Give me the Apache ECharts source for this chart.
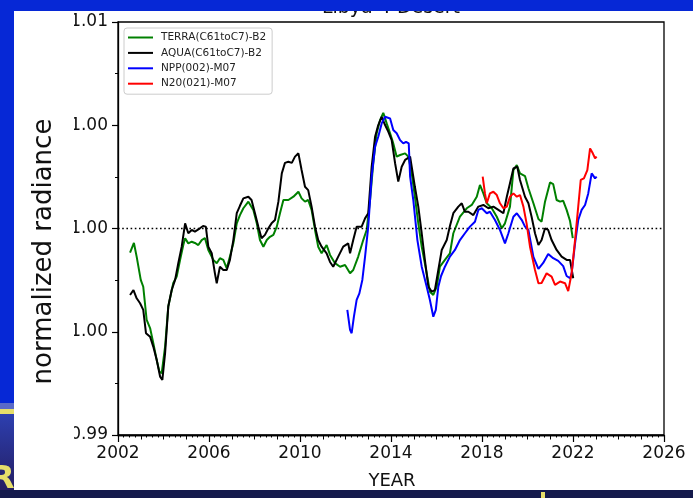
<!DOCTYPE html>
<html>
<head>
<meta charset="utf-8">
<script src="https://cdn.jsdelivr.net/npm/echarts@6/dist/echarts.min.js"></script>
<style>
  html, body { margin: 0; padding: 0; background: #0628d6; }
  #chart { width: 693px; height: 498px; }
</style>
</head>
<body>
<div id="chart"></div>
<script>
// Libya 4 desert site: normalized radiance time series per sensor/band
const seriesNames = ['TERRA(C61toC7)-B2', 'AQUA(C61toC7)-B2', 'NPP(002)-M07', 'N20(021)-M07'];
const seriesColors = ['#008000', '#000000', '#0000ff', '#ff0000'];

const xTickYears = [2002, 2006, 2010, 2014, 2018, 2022, 2026];
const yTickValues = [0.99, 0.995, 1.0, 1.005, 1.01];
const yTickLabels = ['0.99', '1.00', '1.00', '1.00', '1.01'];

const terra = [
  [2002.53, 0.99883], [2002.70, 0.99930], [2002.82, 0.99864], [2003.00, 0.99751], [2003.11, 0.99718],
  [2003.26, 0.99557], [2003.41, 0.99518], [2003.55, 0.99446], [2003.70, 0.99364], [2003.82, 0.99307],
  [2003.92, 0.99299], [2004.07, 0.99428], [2004.21, 0.99622], [2004.43, 0.99736], [2004.58, 0.99767],
  [2004.73, 0.99848], [2004.87, 0.99920], [2004.95, 0.99953], [2005.09, 0.99928], [2005.24, 0.99936],
  [2005.38, 0.99930], [2005.53, 0.99920], [2005.68, 0.99944], [2005.82, 0.99954], [2005.97, 0.99896],
  [2006.19, 0.99848], [2006.34, 0.99832], [2006.48, 0.99856], [2006.63, 0.99848], [2006.78, 0.99807],
  [2006.92, 0.99864], [2007.07, 0.99928], [2007.22, 1.00025], [2007.36, 1.00065], [2007.51, 1.00098],
  [2007.73, 1.00130], [2007.80, 1.00122], [2007.95, 1.00090], [2008.10, 1.00025], [2008.24, 0.99944],
  [2008.39, 0.99912], [2008.54, 0.99944], [2008.68, 0.99960], [2008.83, 0.99969], [2008.98, 1.00009],
  [2009.12, 1.00074], [2009.27, 1.00138], [2009.49, 1.00138], [2009.71, 1.00154], [2009.93, 1.00178],
  [2010.07, 1.00146], [2010.22, 1.00130], [2010.36, 1.00138], [2010.51, 1.00090], [2010.66, 0.99993],
  [2010.80, 0.99912], [2010.95, 0.99880], [2011.17, 0.99920], [2011.32, 0.99872], [2011.54, 0.99832],
  [2011.76, 0.99815], [2011.98, 0.99823], [2012.20, 0.99783], [2012.34, 0.99799], [2012.56, 0.99864],
  [2012.78, 0.99944], [2012.93, 0.99993], [2013.08, 1.00138], [2013.22, 1.00316], [2013.37, 1.00461],
  [2013.52, 1.00525], [2013.66, 1.00560], [2013.81, 1.00509], [2013.96, 1.00461], [2014.10, 1.00412],
  [2014.25, 1.00348], [2014.40, 1.00356], [2014.62, 1.00364], [2014.76, 1.00348], [2014.91, 1.00267],
  [2015.05, 1.00154], [2015.20, 1.00025], [2015.35, 0.99912], [2015.57, 0.99783], [2015.71, 0.99694],
  [2015.86, 0.99678], [2016.01, 0.99718], [2016.15, 0.99815], [2016.37, 0.99848], [2016.59, 0.99880],
  [2016.74, 0.99977], [2017.03, 1.00057], [2017.33, 1.00098], [2017.55, 1.00114], [2017.77, 1.00154],
  [2017.91, 1.00211], [2018.06, 1.00170], [2018.21, 1.00122], [2018.43, 1.00098], [2018.65, 1.00057],
  [2018.87, 1.00001], [2019.01, 1.00025], [2019.23, 1.00106], [2019.38, 1.00283], [2019.53, 1.00307],
  [2019.67, 1.00267], [2019.89, 1.00254], [2020.04, 1.00195], [2020.26, 1.00122], [2020.48, 1.00046],
  [2020.62, 1.00033], [2020.77, 1.00130], [2020.99, 1.00223], [2021.13, 1.00215], [2021.28, 1.00138],
  [2021.43, 1.00130], [2021.57, 1.00134], [2021.72, 1.00090], [2021.87, 1.00036], [2021.99, 0.99953]
];

const aqua = [
  [2002.53, 0.99678], [2002.68, 0.99702], [2002.82, 0.99662], [2002.97, 0.99638], [2003.11, 0.99606],
  [2003.23, 0.99493], [2003.41, 0.99476], [2003.55, 0.99428], [2003.70, 0.99364], [2003.85, 0.99283],
  [2003.95, 0.99267], [2004.07, 0.99396], [2004.21, 0.99622], [2004.36, 0.99702], [2004.51, 0.99751],
  [2004.65, 0.99832], [2004.80, 0.99912], [2004.95, 1.00025], [2005.09, 0.99977], [2005.24, 0.99993],
  [2005.38, 0.99985], [2005.60, 1.00001], [2005.74, 1.00012], [2005.86, 1.00009], [2005.97, 0.99912],
  [2006.12, 0.99880], [2006.26, 0.99783], [2006.34, 0.99735], [2006.48, 0.99815], [2006.63, 0.99799],
  [2006.78, 0.99799], [2006.92, 0.99848], [2007.07, 0.99944], [2007.22, 1.00074], [2007.36, 1.00110],
  [2007.51, 1.00146], [2007.73, 1.00154], [2007.87, 1.00138], [2008.02, 1.00074], [2008.17, 1.00009],
  [2008.31, 0.99953], [2008.46, 0.99969], [2008.61, 1.00001], [2008.75, 1.00025], [2008.90, 1.00041],
  [2009.05, 1.00130], [2009.20, 1.00267], [2009.34, 1.00318], [2009.49, 1.00323], [2009.64, 1.00318],
  [2009.78, 1.00348], [2009.93, 1.00364], [2010.07, 1.00283], [2010.22, 1.00202], [2010.36, 1.00186],
  [2010.51, 1.00106], [2010.66, 1.00009], [2010.80, 0.99944], [2010.95, 0.99912], [2011.17, 0.99880],
  [2011.32, 0.99838], [2011.46, 0.99815], [2011.68, 0.99864], [2011.90, 0.99912], [2012.12, 0.99928],
  [2012.20, 0.99880], [2012.34, 0.99944], [2012.49, 1.00009], [2012.71, 1.00009], [2012.86, 1.00049],
  [2013.00, 1.00074], [2013.15, 1.00299], [2013.30, 1.00444], [2013.44, 1.00501], [2013.59, 1.00541],
  [2013.74, 1.00501], [2013.88, 1.00469], [2014.03, 1.00428], [2014.18, 1.00316], [2014.32, 1.00227],
  [2014.47, 1.00299], [2014.62, 1.00332], [2014.84, 1.00348], [2014.91, 1.00299], [2015.05, 1.00202],
  [2015.20, 1.00106], [2015.35, 0.99977], [2015.49, 0.99848], [2015.64, 0.99718], [2015.79, 0.99694],
  [2015.93, 0.99702], [2016.08, 0.99799], [2016.23, 0.99896], [2016.45, 0.99944], [2016.59, 1.00012],
  [2016.74, 1.00074], [2016.96, 1.00106], [2017.11, 1.00122], [2017.25, 1.00081], [2017.40, 1.00081],
  [2017.62, 1.00065], [2017.84, 1.00106], [2018.06, 1.00114], [2018.28, 1.00098], [2018.50, 1.00106],
  [2018.72, 1.00090], [2018.94, 1.00074], [2019.09, 1.00154], [2019.23, 1.00219], [2019.38, 1.00291],
  [2019.55, 1.00299], [2019.67, 1.00235], [2019.89, 1.00154], [2020.04, 1.00122], [2020.18, 1.00057],
  [2020.33, 0.99977], [2020.48, 0.99920], [2020.62, 0.99944], [2020.77, 1.00001], [2020.91, 0.99993],
  [2021.06, 0.99944], [2021.28, 0.99896], [2021.50, 0.99864], [2021.72, 0.99848], [2021.87, 0.99848],
  [2022.01, 0.99759]
];

const npp = [
  [2012.08, 0.99606], [2012.20, 0.99509], [2012.27, 0.99493], [2012.37, 0.99573], [2012.49, 0.99654],
  [2012.61, 0.99686], [2012.74, 0.99751], [2012.86, 0.99864], [2013.00, 1.00009], [2013.15, 1.00251],
  [2013.30, 1.00396], [2013.44, 1.00444], [2013.59, 1.00509], [2013.74, 1.00541], [2013.96, 1.00533],
  [2014.10, 1.00477], [2014.25, 1.00461], [2014.40, 1.00428], [2014.54, 1.00412], [2014.66, 1.00420],
  [2014.78, 1.00412], [2014.84, 1.00251], [2014.98, 1.00138], [2015.16, 0.99944], [2015.24, 0.99936],
  [2015.35, 0.99815], [2015.57, 0.99718], [2015.71, 0.99654], [2015.86, 0.99573], [2015.97, 0.99606],
  [2016.08, 0.99718], [2016.20, 0.99770], [2016.37, 0.99815], [2016.59, 0.99864], [2016.81, 0.99896],
  [2017.03, 0.99944], [2017.25, 0.99977], [2017.47, 1.00009], [2017.69, 1.00033], [2017.84, 1.00090],
  [2017.99, 1.00098], [2018.21, 1.00074], [2018.35, 1.00081], [2018.57, 1.00041], [2018.79, 0.99993],
  [2019.01, 0.99928], [2019.16, 0.99977], [2019.38, 1.00057], [2019.53, 1.00074], [2019.75, 1.00041],
  [2019.89, 1.00009], [2020.04, 0.99993], [2020.26, 0.99862], [2020.48, 0.99804], [2020.69, 0.99833],
  [2020.91, 0.99877], [2021.13, 0.99856], [2021.35, 0.99843], [2021.57, 0.99818], [2021.72, 0.99770],
  [2021.87, 0.99759], [2021.94, 0.99783], [2022.09, 0.99928], [2022.23, 1.00041], [2022.38, 1.00090],
  [2022.53, 1.00114], [2022.67, 1.00170], [2022.82, 1.00267], [2022.97, 1.00243], [2023.04, 1.00251]
];

const n20 = [
  [2018.03, 1.00251], [2018.13, 1.00170], [2018.21, 1.00122], [2018.35, 1.00170], [2018.50, 1.00178],
  [2018.65, 1.00162], [2018.79, 1.00122], [2018.94, 1.00098], [2019.09, 1.00106], [2019.23, 1.00154],
  [2019.38, 1.00170], [2019.53, 1.00154], [2019.67, 1.00162], [2019.82, 1.00106], [2019.96, 1.00025],
  [2020.11, 0.99912], [2020.33, 0.99799], [2020.48, 0.99735], [2020.62, 0.99736], [2020.84, 0.99783],
  [2021.06, 0.99767], [2021.21, 0.99727], [2021.43, 0.99743], [2021.65, 0.99735], [2021.79, 0.99697],
  [2021.94, 0.99783], [2022.09, 0.99944], [2022.23, 1.00106], [2022.34, 1.00235], [2022.48, 1.00243],
  [2022.63, 1.00283], [2022.75, 1.00388], [2022.87, 1.00364], [2022.97, 1.00340], [2023.04, 1.00348]
];

const seriesData = [terra, aqua, npp, n20];

const FONT = 'DejaVu Sans';
const chart = echarts.init(document.getElementById('chart'), null, { renderer: 'canvas' });

const lineSeries = seriesData.map((d, i) => ({
  name: seriesNames[i],
  type: 'line',
  xAxisIndex: 0,
  yAxisIndex: 0,
  data: d,
  showSymbol: false,
  symbol: 'none',
  lineStyle: { color: seriesColors[i], width: 2 },
  itemStyle: { color: seriesColors[i] },
  z: 3 + i,
  animation: false
}));

// unit reference line
lineSeries[0].markLine = {
  silent: true,
  symbol: 'none',
  label: { show: false },
  lineStyle: { color: '#000', type: [1.6, 2.6], width: 1.3 },
  data: [{ yAxis: 1.0 }],
  animation: false
};

const axisLineStyle = { color: '#000', width: 1.3 };

chart.setOption({
  backgroundColor: '#0628d6',
  animation: false,
  grid: {
    left: 118, right: 29, top: 22, bottom: 63,
    show: true, borderColor: '#000', borderWidth: 1.3, backgroundColor: 'transparent'
  },
  legend: {
    orient: 'vertical',
    left: 124, top: 28,
    data: seriesNames,
    icon: 'rect',
    itemWidth: 25, itemHeight: 2,
    itemGap: 2.4,
    padding: [3, 6, 4, 4],
    borderColor: '#cccccc', borderWidth: 1, borderRadius: 3,
    backgroundColor: 'rgba(255,255,255,0.85)',
    textStyle: { fontFamily: FONT, fontSize: 10.5, color: '#222', lineHeight: 13, padding: [0, 0, 0, 3] }
  },
  xAxis: [
    {
      type: 'value', position: 'bottom',
      min: 2002, max: 2026, interval: 4,
      axisLine: { show: true, onZero: false, lineStyle: axisLineStyle },
      axisTick: { show: true, inside: false, length: 7, lineStyle: { color: '#000', width: 1.2 } },
      minorTick: { show: true, splitNumber: 4, length: 4.5, lineStyle: { color: '#000', width: 1 } },
      splitLine: { show: false },
      axisLabel: {
        fontFamily: FONT, fontSize: 17, color: '#111', margin: 10,
        formatter: v => (xTickYears.indexOf(Math.round(v)) >= 0 ? String(Math.round(v)) : '')
      }
    },
    {
      // quarter-year ticks
      type: 'value', position: 'bottom',
      min: 2002, max: 2026, interval: 0.25,
      axisLine: { show: true, onZero: false, lineStyle: axisLineStyle },
      axisTick: { show: true, inside: false, length: 2.5, lineStyle: { color: '#000', width: 1 } },
      axisLabel: { show: false },
      splitLine: { show: false }
    }
  ],
  yAxis: {
    type: 'value',
    min: 0.99, max: 1.01, interval: 0.005,
    axisLine: { show: true, onZero: false, lineStyle: axisLineStyle },
    axisTick: { show: true, inside: false, length: 6, lineStyle: { color: '#000', width: 1.2 } },
    minorTick: { show: true, splitNumber: 2, length: 3, lineStyle: { color: '#000', width: 1 } },
    splitLine: { show: false },
    axisLabel: {
      fontFamily: FONT, fontSize: 17, color: '#111', margin: 10,
      formatter: v => yTickLabels[Math.round((v - 0.99) / 0.005)]
    }
  },
  graphic: {
    elements: [
      // slide backdrop
      { type: 'rect', z: -20, shape: { x: 14, y: 11, width: 679, height: 479 }, style: { fill: '#ffffff' } },
      { type: 'rect', z: -20, shape: { x: 0, y: 403, width: 14, height: 7 }, style: { fill: '#5a6ac8' } },
      { type: 'rect', z: -20, shape: { x: 0, y: 409, width: 14, height: 5 }, style: { fill: '#e6de6a' } },
      {
        type: 'rect', z: -20, shape: { x: 0, y: 414, width: 14, height: 84 },
        style: {
          fill: new echarts.graphic.LinearGradient(0, 0, 0, 1, [
            { offset: 0, color: '#2d3fb0' }, { offset: 1, color: '#231a5a' }
          ])
        }
      },
      { type: 'rect', z: -20, shape: { x: 0, y: 490, width: 693, height: 8 }, style: { fill: '#141a4c' } },
      { type: 'rect', z: -19, shape: { x: 541, y: 492, width: 4, height: 6 }, style: { fill: '#e6de6a' } },
      {
        type: 'text', z: -19, x: -10, y: 496,
        style: { text: 'R', fontFamily: FONT, fontWeight: 'bold', fontSize: 32, fill: '#e6de6a', align: 'left', verticalAlign: 'bottom' }
      },
      // chart title, partly hidden under the slide header band
      {
        type: 'text', z: 50, x: 391, y: 8.5,
        style: { text: 'Libya 4 Desert', fontFamily: FONT, fontSize: 19, fill: '#111', align: 'center', verticalAlign: 'middle' }
      },
      { type: 'rect', z: 60, shape: { x: 0, y: 0, width: 693, height: 11 }, style: { fill: '#0628d6' } },
      // y-axis caption box
      { type: 'rect', z: 70, shape: { x: 14, y: 11, width: 60, height: 432 }, style: { fill: '#ffffff' } },
      {
        type: 'text', z: 71, x: 44, y: 251.5, rotation: Math.PI / 2,
        style: { text: 'normalized radiance', fontFamily: FONT, fontSize: 26, fill: '#111', align: 'center', verticalAlign: 'middle' }
      },
      // x-axis caption
      {
        type: 'text', z: 71, x: 392, y: 481.5,
        style: { text: 'YEAR', fontFamily: FONT, fontSize: 18, fill: '#111', align: 'center', verticalAlign: 'middle' }
      }
    ]
  },
  series: lineSeries
});
</script>
</body>
</html>
